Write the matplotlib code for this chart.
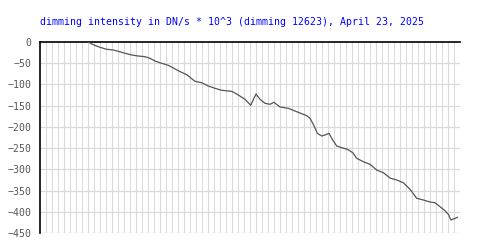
import matplotlib
matplotlib.use("Agg")
import matplotlib.pyplot as plt
import numpy as np

title = "dimming intensity in DN/s * 10^3 (dimming 12623), April 23, 2025"

# time position (grid units) and dimming values
t = [8.0, 8.88, 10.0, 11.12, 12.22, 13.05, 14.17, 15.28, 16.38, 17.5,
     18.33, 19.17, 20.28, 21.38, 22.22, 23.22, 24.45, 25.83, 26.95, 28.05,
     29.17, 30.28, 31.95, 32.78, 34.17, 35.12, 36.0, 36.67, 37.5, 38.33,
     39.0, 40.0, 41.38, 42.5, 43.62, 44.45, 45.0, 45.55, 46.22, 46.95,
     47.5, 48.17, 48.78, 49.45, 50.28, 51.22, 52.12, 52.78, 53.88, 55.0,
     56.12, 57.22, 58.33, 59.45, 60.55, 61.67, 62.78, 63.88, 65.0, 65.83,
     66.67, 67.5, 68.05, 68.5, 69.05, 69.55]
values = [0, -6.4, -12.5, -17.2, -18.8, -21.9, -26.6, -30.6, -33.0, -34.6,
          -38.4, -44.8, -50.2, -54.9, -61.3, -69.0, -77.0, -92.6, -95.9, -103.7,
          -109.1, -113.8, -116.2, -122.5, -135.0, -149.1, -122.5, -135.0, -144.4, -146.8,
          -142.1, -153.1, -156.2, -162.6, -168.9, -173.6, -179.8, -193.9, -215.1, -221.5,
          -219.1, -215.1, -230.9, -245.0, -249.0, -252.8, -260.8, -274.0, -282.0, -288.1,
          -301.6, -307.9, -320.4, -325.1, -331.5, -347.0, -368.2, -372.2, -377.0, -378.6,
          -388.0, -397.5, -405.9, -419.4, -416.3, -413.0]
yticks = [0, -50, -100, -150, -200, -250, -300, -350, -400, -450]

fig = plt.figure(figsize=(5, 2.5), dpi=100)
ax = fig.add_axes([40/500, 1 - 233/250, 420/500, 191/250])
ax.set_xlim(0, 70)
ax.set_ylim(-450, 0)

grid_c = "#dadada"
for gx in np.arange(1, 71):
    ax.axvline(gx, color=grid_c, lw=0.75, zorder=1)
for gy in yticks[1:]:
    ax.axhline(gy, color=grid_c, lw=0.9, zorder=1)

ax.plot(t, values, color="#555555", lw=0.9, zorder=3)

for s in ["right", "bottom"]:
    ax.spines[s].set_visible(False)
ax.spines["left"].set_color("black")
ax.spines["top"].set_color("black")
ax.spines["left"].set_linewidth(1.2)
ax.spines["top"].set_linewidth(1.2)

ax.set_xticks([])
ax.set_yticks(yticks)
ax.set_yticklabels([str(v).replace("-", "\u2212") for v in yticks],
                   fontfamily="DejaVu Sans Mono", fontsize=7.1, color="#555555")
ax.tick_params(axis="y", length=0, pad=6)

fig.text(40/500, 1 - 22/250, title, color="#0000ff", fontfamily="DejaVu Sans Mono",
         fontsize=7.1, ha="left", va="center")

fig.savefig("out.png", dpi=100, facecolor="white")
